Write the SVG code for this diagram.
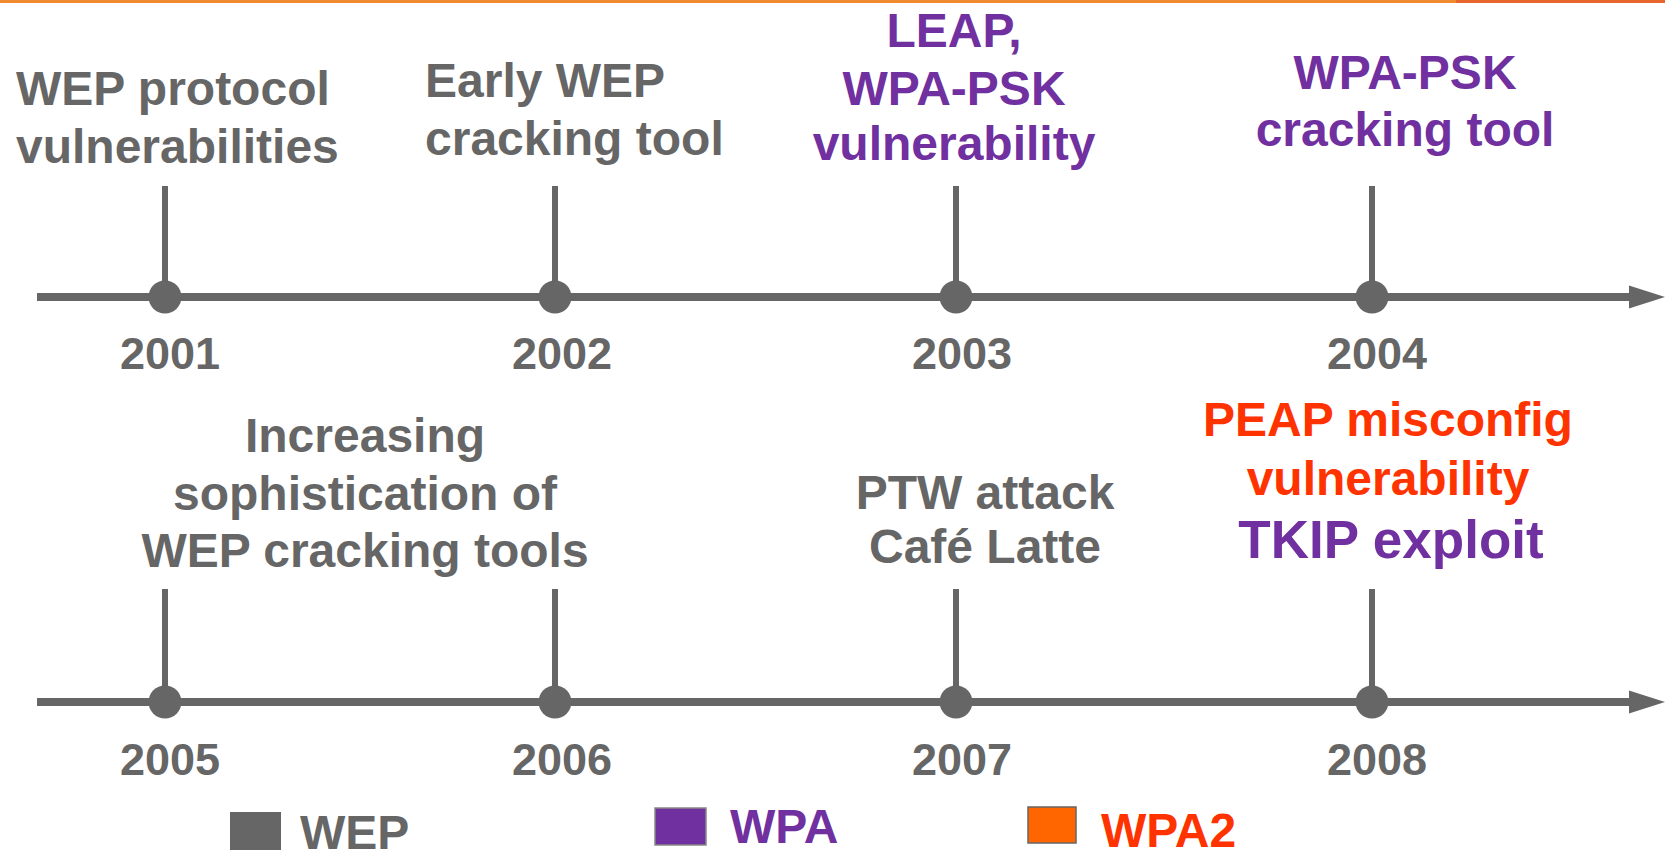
<svg xmlns="http://www.w3.org/2000/svg" width="1665" height="850" viewBox="0 0 1665 850">
  <style>
    text { font-family: "Liberation Sans", Arial, Helvetica, sans-serif; font-weight: bold; }
    .lbl { font-size: 48px; }
    .year { font-size: 45px; fill: #666666; text-anchor: middle; }
    .wep { fill: #666666; }
    .wpa { fill: #7030A0; }
    .wpa2 { fill: #FF3300; }
    .mid { text-anchor: middle; }
    .axis { stroke: #666666; stroke-width: 8; fill: none; }
    .tick { stroke: #666666; stroke-width: 6; fill: none; }
    .dot { fill: #666666; }
  </style>
  <defs>
    <marker id="arrow" markerUnits="userSpaceOnUse" markerWidth="36" markerHeight="24" refX="3" refY="12" orient="auto">
      <path d="M0,0.5 L36,12 L0,23.5 Z" fill="#666666"/>
    </marker>
  </defs>

  <!-- header rule -->
  <rect x="0" y="0" width="1456" height="3" fill="#F08A30"/>
  <rect x="1456" y="0" width="209" height="3" fill="#E8662E"/>

  <!-- timeline axes and ticks -->
  <g id="connectors">
    <line class="axis" x1="37" y1="297" x2="1632" y2="297" marker-end="url(#arrow)"/>
    <line class="axis" x1="37" y1="702" x2="1632" y2="702" marker-end="url(#arrow)"/>
    <line class="tick" x1="165" y1="186" x2="165" y2="297"/>
    <line class="tick" x1="555" y1="186" x2="555" y2="297"/>
    <line class="tick" x1="956" y1="186" x2="956" y2="297"/>
    <line class="tick" x1="1372" y1="186" x2="1372" y2="297"/>
    <line class="tick" x1="165" y1="589" x2="165" y2="702"/>
    <line class="tick" x1="555" y1="589" x2="555" y2="702"/>
    <line class="tick" x1="956" y1="589" x2="956" y2="702"/>
    <line class="tick" x1="1372" y1="589" x2="1372" y2="702"/>
  </g>

  <!-- 2001 -->
  <g id="y2001">
    <circle class="dot" cx="165" cy="297" r="16.5"/>
    <text class="year" x="170" y="369">2001</text>
    <text class="lbl wep" x="16" y="105">WEP protocol</text>
    <text class="lbl wep" x="16" y="163">vulnerabilities</text>
  </g>

  <!-- 2002 -->
  <g id="y2002">
    <circle class="dot" cx="555" cy="297" r="16.5"/>
    <text class="year" x="562" y="369">2002</text>
    <text class="lbl wep" x="425" y="97">Early WEP</text>
    <text class="lbl wep" x="425" y="155">cracking tool</text>
  </g>

  <!-- 2003 -->
  <g id="y2003">
    <circle class="dot" cx="956" cy="297" r="16.5"/>
    <text class="year" x="962" y="369">2003</text>
    <text class="lbl wpa mid" x="954" y="47">LEAP,</text>
    <text class="lbl wpa mid" x="954" y="105">WPA-PSK</text>
    <text class="lbl wpa mid" x="954" y="160">vulnerability</text>
  </g>

  <!-- 2004 -->
  <g id="y2004">
    <circle class="dot" cx="1372" cy="297" r="16.5"/>
    <text class="year" x="1377" y="369">2004</text>
    <text class="lbl wpa mid" x="1405" y="89">WPA-PSK</text>
    <text class="lbl wpa mid" x="1405" y="146">cracking tool</text>
  </g>

  <!-- 2005 -->
  <g id="y2005">
    <circle class="dot" cx="165" cy="702" r="16.5"/>
    <text class="year" x="170" y="775">2005</text>
  </g>

  <!-- 2006 -->
  <g id="y2006">
    <circle class="dot" cx="555" cy="702" r="16.5"/>
    <text class="year" x="562" y="775">2006</text>
    <text class="lbl wep mid" x="365" y="452">Increasing</text>
    <text class="lbl wep mid" x="365" y="510">sophistication of</text>
    <text class="lbl wep mid" x="365" y="567">WEP cracking tools</text>
  </g>

  <!-- 2007 -->
  <g id="y2007">
    <circle class="dot" cx="956" cy="702" r="16.5"/>
    <text class="year" x="962" y="775">2007</text>
    <text class="lbl wep mid" x="985" y="509">PTW attack</text>
    <text class="lbl wep mid" x="985" y="563">Café Latte</text>
  </g>

  <!-- 2008 -->
  <g id="y2008">
    <circle class="dot" cx="1372" cy="702" r="16.5"/>
    <text class="year" x="1377" y="775">2008</text>
    <text class="lbl wpa2 mid" x="1388" y="436">PEAP misconfig</text>
    <text class="lbl wpa2 mid" x="1388" y="495">vulnerability</text>
    <text class="wpa mid" x="1391" y="558" font-size="53">TKIP exploit</text>
  </g>

  <!-- legend (runs off the bottom edge) -->
  <g id="legend">
    <rect x="230" y="812" width="51" height="42" fill="#666666"/>
    <text class="lbl wep" x="300" y="849">WEP</text>
    <rect x="655" y="808" width="51" height="37" fill="#7030A0" stroke="#888888" stroke-width="1.5"/>
    <text class="lbl wpa" x="730" y="843">WPA</text>
    <rect x="1028" y="807" width="48" height="36" fill="#FF6600" stroke="#666666" stroke-width="1.5"/>
    <text class="lbl wpa2" x="1101" y="847">WPA2</text>
  </g>
</svg>
